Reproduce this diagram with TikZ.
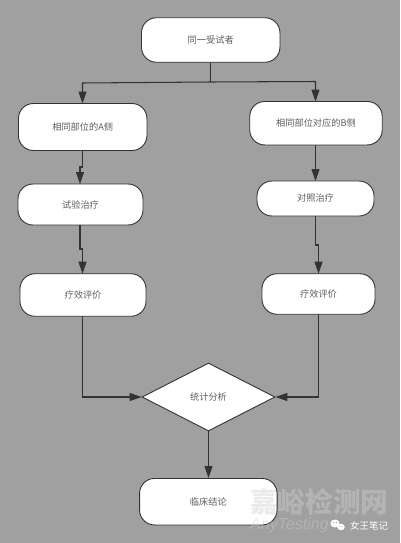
\documentclass[tikz,border=0pt]{standalone}
\usepackage{fontspec}
\setmainfont{Noto Sans CJK SC}
\newfontfamily\latinwm{Liberation Sans}
\usetikzlibrary{arrows.meta,shapes.geometric}
\definecolor{bgc}{HTML}{A0A0A0}
\definecolor{ink}{HTML}{333333}
\definecolor{lbl}{HTML}{5E5E5E}
\definecolor{wm}{HTML}{D0D0D0}
\tikzset{
  x=1pt,y=-1pt,
  pill/.style={draw=ink,fill=white,line width=0.9pt,rounded corners=15pt,inner sep=0pt,text=lbl,font=\fontsize{9.2}{9.2}\selectfont},
  decision/.style={diamond,draw=ink,fill=white,line width=0.9pt,inner sep=0pt,aspect=1.96,minimum width=133pt,minimum height=68pt,text=lbl,font=\fontsize{9.2}{9.2}\selectfont},
  flow/.style={draw=ink,line width=1.05pt,-{Triangle[length=12pt,width=8pt]}},
  plain/.style={draw=ink,line width=1.05pt},
  wmark/.style={inner sep=0pt,anchor=west,opacity=0.42,text=wm},
}
\newcommand{\pillnode}[6]{\node[pill,minimum width=#4 pt,minimum height=#5 pt] (#1) at (#2,#3) {#6};}
\begin{document}
\begin{tikzpicture}
\useasboundingbox (0,0) rectangle (400,543);
\fill[bgc] (0,0) rectangle (400,543);
\pillnode{top}{210.7}{40}{138.5}{44.5}{同一受试者}
\pillnode{a}{82.7}{127}{128.5}{47}{相同部位的A侧}
\pillnode{b}{316}{123.2}{132.5}{43.5}{相同部位对应的B侧}
\pillnode{ta}{80.5}{204.5}{125}{41}{试验治疗}
\pillnode{tb}{315.5}{198.5}{117}{35}{对照治疗}
\pillnode{ea}{83}{295}{126}{42.5}{疗效评价}
\pillnode{eb}{318.5}{294}{113}{40.5}{疗效评价}
\pillnode{end}{208.3}{501.7}{137.5}{46.5}{临床结论}
\node[decision] (dec) at (208.5,397) {统计分析};
\coordinate (j) at (210.5,82);
\draw[plain] (top.south -| j) -- (j);
\draw[flow] (j) -- (82.5,83) -- (82.5,103.5);
\draw[flow] (j) -- (315.5,81.5) -- (315.5,101.5);
\draw[flow] (82.5,150.5) -- (82.5,167) -- (80,167) -- (80,184);
\draw[flow] (80,225) -- (80,249) -- (82.5,249) -- (82.5,273.7);
\draw[flow] (315.5,145) -- (315.5,181);
\draw[flow] (315.5,216) -- (315.5,245) -- (318.5,245) -- (318.5,273.7);
\draw[flow] (82.5,316.2) -- (82.5,397) -- (dec.west);
\draw[flow] (318.5,314.2) -- (318.5,397) -- (dec.east);
\draw[flow] (dec.south) -- (end.north -| dec.south);
\node[wmark,font=\fontsize{27.6}{27.6}\selectfont\bfseries] (wmcn) at (250,502) {嘉峪检测网};
\node[wmark,font=\latinwm\itshape\fontsize{16}{16}\selectfont] (wmen) at (250,525) {AnyTesting};
\node[inner sep=0pt,anchor=west,text=white,font=\fontsize{9.5}{9.5}\selectfont] (wmq) at (350,525.5) {女王笔记};
\fill[white] (335,523.5) ellipse (4.6pt and 4pt);
\fill[white] (341,527) ellipse (3.8pt and 3.2pt);
\fill[bgc] (333.5,522.5) circle (0.6pt) (336.5,522.5) circle (0.6pt) (340,526.5) circle (0.5pt) (342.2,526.5) circle (0.5pt);
\end{tikzpicture}
\end{document}
